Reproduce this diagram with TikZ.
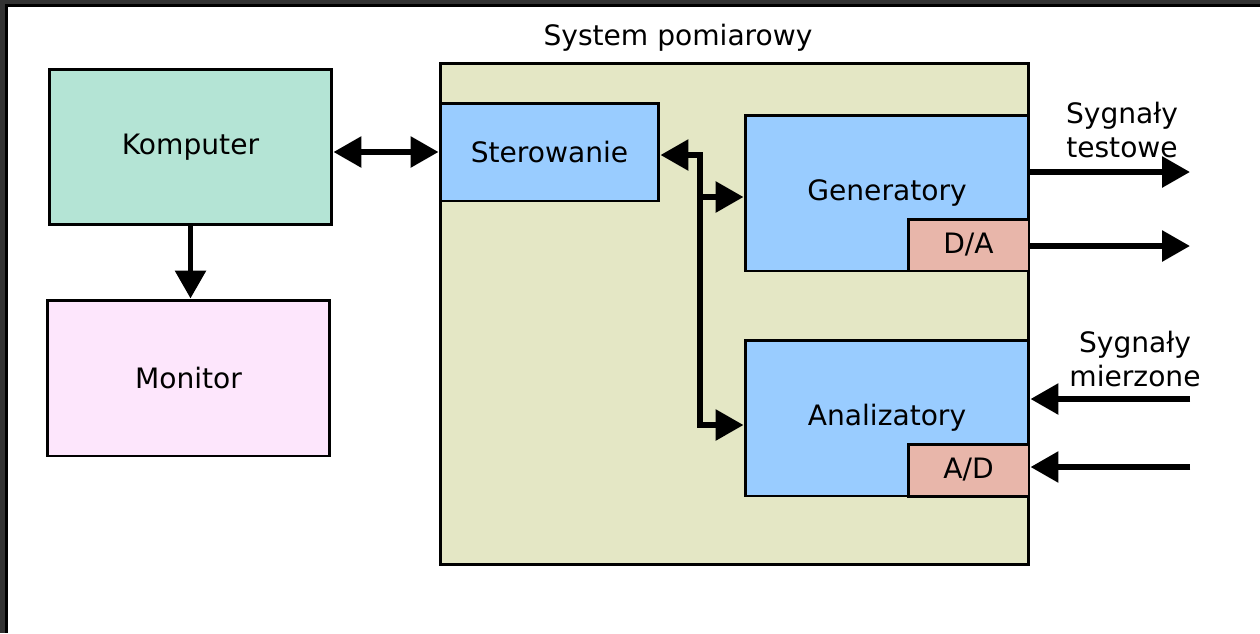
\documentclass[tikz,border=0pt]{standalone}
\usepackage{fontspec}
\setmainfont{DejaVu Sans}
\usetikzlibrary{arrows.meta}

\definecolor{framegray}{HTML}{333333}
\definecolor{mint}{HTML}{B4E4D5}
\definecolor{pinkish}{HTML}{FDE6FC}
\definecolor{olive}{HTML}{E4E7C5}
\definecolor{skyblue}{HTML}{99CCFF}
\definecolor{salmon}{HTML}{E8B6AA}

\tikzset{
    box/.style={draw, line width=1.7pt, inner sep=0pt, font=\fontsize{16}{19}\selectfont},
    arr/.style={line width=3.4pt},
    >={Triangle[length=0.56cm,width=0.6cm]}
}

\begin{document}
\begin{tikzpicture}[x=0.02cm, y=-0.02cm]
    \useasboundingbox (0,0) rectangle (1260,633);
    \fill[white] (0,0) rectangle (1260,633);

    % frame
    \fill[framegray] (0,0) rectangle (1260,4);
    \fill[framegray] (0,0) rectangle (5,633);
    \fill[black] (5,4) rectangle (1260,7);
    \fill[black] (5,4) rectangle (8,633);

    \node[box, fill=mint, minimum width=5.66cm, minimum height=3.12cm] (Komputer) at (190.5,147) {Komputer};
    \node[box, fill=pinkish, minimum width=5.66cm, minimum height=3.12cm] (Monitor) at (188.5,378) {Monitor};

    \node[box, fill=olive, minimum width=11.78cm, minimum height=10.04cm] (System) at (734.5,314) {};
    \node[font=\fontsize{16}{19}\selectfont] (SystemLabel) at (678,38) {System pomiarowy};

    \node[box, fill=skyblue, minimum width=4.38cm, minimum height=1.96cm] (Sterowanie) at (549.5,152) {Sterowanie};
    \node[box, fill=skyblue, minimum width=5.68cm, minimum height=3.12cm] (Generatory) at (887,193) {Generatory};
    \node[box, fill=salmon, minimum width=2.42cm, minimum height=1.04cm] (DA) at (968.5,245) {D/A};
    \node[box, fill=skyblue, minimum width=5.68cm, minimum height=3.12cm] (Analizatory) at (887,418) {Analizatory};
    \node[box, fill=salmon, minimum width=2.42cm, minimum height=1.04cm] (AD) at (968.5,470) {A/D};

    \draw[arr, <->] (Komputer.east |- Sterowanie.west) -- (Sterowanie.west);
    \draw[arr, ->] (Komputer.south) -- (Komputer.south |- Monitor.north);

    % bus
    \coordinate (busTop) at (700,155);
    \coordinate (busGen) at (700,197);
    \coordinate (busAn) at (700,425);
    \draw[arr, <->] (Sterowanie.east |- busTop) -- (busTop) -- (busAn) -- (Analizatory.west |- busAn);
    \draw[arr, ->] (busGen) -- (Generatory.west |- busGen);

    % signals
    \coordinate (out1) at (1190,172);
    \coordinate (out2) at (1190,246);
    \coordinate (in1) at (1190,399);
    \coordinate (in2) at (1190,467);
    \draw[arr, ->] (Generatory.east |- out1) -- (out1);
    \draw[arr, ->] (DA.east |- out2) -- (out2);
    \draw[arr, ->] (in1) -- (Analizatory.east |- in1);
    \draw[arr, ->] (in2) -- (AD.east |- in2);

    \node[align=center, font=\fontsize{16}{19}\selectfont] (testowe) at (1122,130) {Sygnały\\testowe};
    \node[align=center, font=\fontsize{16}{19}\selectfont] (mierzone) at (1135,359) {Sygnały\\mierzone};
\end{tikzpicture}
\end{document}
